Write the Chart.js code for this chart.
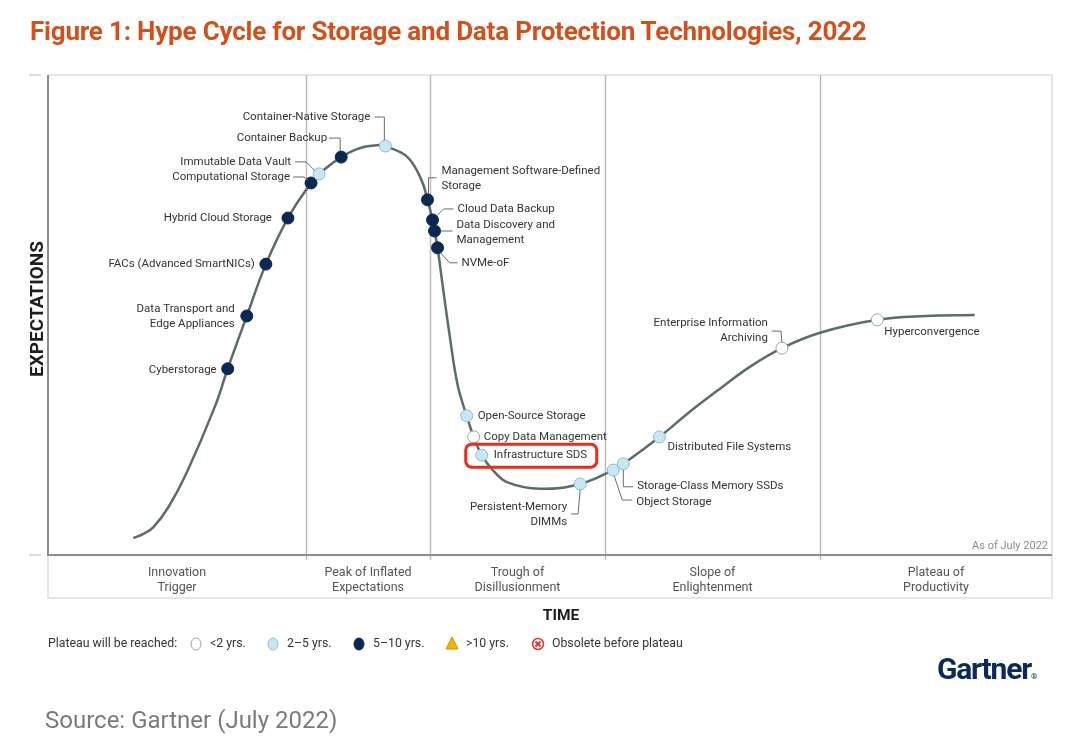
<!DOCTYPE html>
<html lang="en">
<head>
<meta charset="UTF-8">
<title>Hype Cycle for Storage and Data Protection Technologies, 2022</title>
<script src="https://cdn.jsdelivr.net/npm/chart.js"></script>
<style>
    body { margin: 0; background: #fff; font-family: Roboto, "Noto Sans", sans-serif; }
    .page { position: relative; width: 1080px; height: 747px; overflow: hidden; }
    #hype { position: absolute; left: 0; top: 0; }
    h1 {
        position: absolute; left: 30px; top: 16px; margin: 0;
        font-size: 26px; line-height: 30px; font-weight: 700; color: #d4501a;
        letter-spacing: -0.2px;
    }
    .logo {
        position: absolute; left: 937px; top: 652px;
        font-size: 30px; line-height: 34px; font-weight: 700; color: #0a2a5a; letter-spacing: -1.2px;
    }
    .logo span { font-size: 8px; letter-spacing: 0; }
    .source {
        position: absolute; left: 45px; top: 706px;
        font-size: 24px; line-height: 28px; color: #7a7a7a;
    }
</style>
</head>
<body>
<div class="page">
    <canvas id="hype" width="1080" height="747"></canvas>
    <h1>Figure 1: Hype Cycle for Storage and Data Protection Technologies, 2022</h1>
    <div class="logo">Gartner<span>&reg;</span></div>
    <div class="source">Source: Gartner (July 2022)</div>
</div>
<script>
// hype curve (time 0-100, expectations 0-100)
const curveTime = [8.5, 9.5, 10.5, 12.0, 13.8, 16.6, 17.9, 19.8, 21.7, 23.9, 26.2, 27.0, 29.2, 31.1, 33.1, 33.6, 35.8, 37.2, 37.8, 38.3, 38.5, 38.8, 39.3, 40.0, 40.8, 41.7, 42.4, 43.2, 44.3, 45.7, 49.0, 53.0, 56.3, 57.3, 60.9, 63.9, 66.9, 69.9, 73.1, 76.9, 82.6, 87.4, 92.3];
const curveExpect = [3.5, 4.4, 5.8, 10.0, 17.1, 30.8, 38.8, 49.8, 60.6, 70.2, 77.5, 79.4, 82.9, 84.8, 85.4, 85.2, 82.9, 78.1, 74.0, 69.8, 67.5, 64.0, 56.3, 45.8, 35.4, 29.0, 24.6, 20.8, 17.7, 15.2, 13.8, 14.8, 17.7, 19.0, 24.6, 29.8, 34.6, 39.2, 43.1, 46.3, 49.0, 49.8, 50.0];

const techNames = ['Cyberstorage', 'Data Transport and\nEdge Appliances', 'FACs (Advanced SmartNICs)', 'Hybrid Cloud Storage',
    'Computational Storage', 'Immutable Data Vault', 'Container Backup', 'Container-Native Storage',
    'Management Software-Defined\nStorage', 'Cloud Data Backup', 'Data Discovery and\nManagement', 'NVMe-oF',
    'Open-Source Storage', 'Copy Data Management', 'Infrastructure SDS', 'Persistent-Memory\nDIMMs',
    'Object Storage', 'Storage-Class Memory SSDs', 'Distributed File Systems', 'Enterprise Information\nArchiving', 'Hyperconvergence'];
const techTime = [17.9, 19.8, 21.7, 23.9, 26.2, 27.0, 29.2, 33.6, 37.8, 38.3, 38.5, 38.8, 41.7, 42.4, 43.2, 53.0, 56.3, 57.3, 60.9, 73.1, 82.6];
const techExpect = [38.8, 49.8, 60.6, 70.2, 77.5, 79.4, 82.9, 85.2, 74.0, 69.8, 67.5, 64.0, 29.0, 24.6, 20.8, 14.8, 17.7, 19.0, 24.6, 43.1, 49.0];
const techPlateau = ['5-10', '5-10', '5-10', '5-10', '5-10', '2-5', '5-10', '2-5', '5-10', '5-10', '5-10', '5-10',
    '2-5', '<2', '2-5', '2-5', '2-5', '2-5', '2-5', '<2', '<2'];

const phaseNames = [['Innovation', 'Trigger'], ['Peak of Inflated', 'Expectations'], ['Trough of', 'Disillusionment'],
    ['Slope of', 'Enlightenment'], ['Plateau of', 'Productivity']];
const phaseEnds = [25.7, 38.05, 55.48, 76.89, 100];
const legendItems = ['<2 yrs.', '2\u20135 yrs.', '5\u201310 yrs.', '>10 yrs.', 'Obsolete before plateau'];
const highlighted = 'Infrastructure SDS';

// styling
const plateauFill = { '<2': '#ffffff', '2-5': '#c9e7f3', '5-10': '#0b2852' };
const plateauLine = { '<2': '#9aa3a6', '2-5': '#8fbccd', '5-10': '#0b2852' };

// label offsets from the point (px), with leader line paths
const labelLayout = [
    { dx: -11, dy: 1, align: 'right' },
    { dx: -12, dy: -7, align: 'right' },
    { dx: -11, dy: 0, align: 'right' },
    { dx: -16, dy: 0, align: 'right' },
    { dx: -21, dy: -6, align: 'right', leader: [[-18, -6], [-7, -6], [-3, -3]] },
    { dx: -28, dy: -12, align: 'right', leader: [[-24, -12], [-13, -12], [-4, -3]] },
    { dx: -14, dy: -19, align: 'right', leader: [[-12, -19], [-1, -19], [-1, -6]] },
    { dx: -15, dy: -29, align: 'right', leader: [[-11, -29], [-1, -29], [-1, -6]] },
    { dx: 14, dy: -29, align: 'left', leader: [[1, -6], [1, -22], [9, -22]] },
    { dx: 25, dy: -11, align: 'left', leader: [[4, -4], [11, -11], [21, -11]] },
    { dx: 22, dy: -6, align: 'left', leader: [[6, 0], [18, 0]] },
    { dx: 24, dy: 15, align: 'left', leader: [[3, 5], [12, 15], [20, 15]] },
    { dx: 11, dy: 0, align: 'left' },
    { dx: 10, dy: 0, align: 'left' },
    { dx: 12, dy: 0, align: 'left' },
    { dx: -13, dy: 23, align: 'right', leader: [[0, 6], [-2, 30], [-9, 30]] },
    { dx: 23, dy: 32, align: 'left', leader: [[1, 6], [9, 30], [19, 30]] },
    { dx: 14, dy: 22, align: 'left', leader: [[0, 6], [0, 23], [10, 23]] },
    { dx: 8, dy: 10, align: 'left' },
    { dx: -14, dy: -25, align: 'right', leader: [[-10, -17], [-1, -17], [0, -6]] },
    { dx: 7, dy: 12, align: 'left' }
];

function line(ctx, pts) {
    ctx.beginPath();
    ctx.moveTo(pts[0][0], pts[0][1]);
    for (let i = 1; i < pts.length; i++) ctx.lineTo(pts[i][0], pts[i][1]);
    ctx.stroke();
}

const hypeDecor = {
    id: 'hypeDecor',
    beforeDatasetsDraw(chart) {
        const { ctx, chartArea: a, scales: { x } } = chart;
        const boxBottom = a.bottom + 43;
        ctx.save();
        // light outer frame and phase label box
        ctx.strokeStyle = '#dedede';
        ctx.lineWidth = 1.5;
        line(ctx, [[a.left, a.top], [a.right, a.top], [a.right, boxBottom], [a.left, boxBottom], [a.left, a.bottom]]);
        // small ticks left of the frame
        ctx.strokeStyle = '#b5b5b5';
        ctx.lineWidth = 1;
        line(ctx, [[29, a.top], [41, a.top]]);
        line(ctx, [[29, a.bottom], [41, a.bottom]]);
        // phase dividers
        ctx.strokeStyle = '#bdbdbd';
        ctx.lineWidth = 1.5;
        phaseEnds.slice(0, -1).forEach(t => {
            const px = Math.round(x.getPixelForValue(t)) + 0.5;
            line(ctx, [[px, a.top], [px, a.bottom + 5]]);
        });
        // axes
        ctx.strokeStyle = '#8c8c8c';
        ctx.lineWidth = 2;
        line(ctx, [[a.left, a.top], [a.left, a.bottom], [a.right, a.bottom]]);
        // phase labels
        ctx.fillStyle = '#555';
        ctx.font = '12.5px Roboto';
        ctx.textAlign = 'center';
        ctx.textBaseline = 'middle';
        let start = 0;
        phaseNames.forEach((lines, i) => {
            const cx = (x.getPixelForValue(start) + x.getPixelForValue(phaseEnds[i])) / 2;
            lines.forEach((t, j) => ctx.fillText(t, cx, a.bottom + 18 + j * 15));
            start = phaseEnds[i];
        });
        ctx.fillStyle = '#8a8a8a';
        ctx.font = '11px Roboto';
        ctx.textAlign = 'right';
        ctx.fillText('As of July 2022', a.right - 4, a.bottom - 9);
        ctx.restore();
    },
    afterDatasetsDraw(chart) {
        const { ctx } = chart;
        const meta = chart.getDatasetMeta(1);
        ctx.save();
        ctx.font = '11.5px Roboto';
        ctx.textBaseline = 'middle';
        ctx.lineWidth = 1;
        meta.data.forEach((el, i) => {
            const px = el.x, py = el.y;
            const lay = labelLayout[i];
            if (lay.leader) {
                ctx.strokeStyle = '#6b6b6b';
                line(ctx, lay.leader.map(p => [px + p[0], py + p[1]]));
            }
            ctx.fillStyle = '#333';
            ctx.textAlign = lay.align;
            techNames[i].split('\n').forEach((t, j) => ctx.fillText(t, px + lay.dx, py + lay.dy + j * 15));
            if (techNames[i] === highlighted) {
                ctx.strokeStyle = '#ee2a1b';
                ctx.lineWidth = 3;
                ctx.beginPath();
                ctx.roundRect(px - 16, py - 11, 131, 23, 6);
                ctx.stroke();
                ctx.lineWidth = 1;
            }
        });
        ctx.restore();
    },
    afterDraw(chart) {
        const { ctx, chartArea: a } = chart;
        ctx.save();
        // axis titles
        ctx.fillStyle = '#1e1e1e';
        ctx.font = 'bold 19px Roboto';
        ctx.textAlign = 'center';
        ctx.textBaseline = 'middle';
        ctx.save();
        ctx.translate(38, (a.top + a.bottom) / 2 - 6);
        ctx.rotate(-Math.PI / 2);
        ctx.fillText('EXPECTATIONS', 0, 0);
        ctx.restore();
        ctx.font = 'bold 15.5px Roboto';
        ctx.fillText('TIME', 561, 616);

        // legend
        const ly = 644;
        ctx.font = '12.3px Roboto';
        ctx.textAlign = 'left';
        ctx.fillStyle = '#333';
        ctx.fillText('Plateau will be reached:', 48, ly);
        const marks = [196, 273, 359, 452, 538];
        const keys = ['<2', '2-5', '5-10'];
        marks.forEach((mx, i) => {
            ctx.lineWidth = 1;
            if (i < 3) {
                ctx.fillStyle = plateauFill[keys[i]];
                ctx.strokeStyle = plateauLine[keys[i]];
                ctx.beginPath();
                ctx.ellipse(mx, ly, 5, 6, 0, 0, Math.PI * 2);
                ctx.fill();
                ctx.stroke();
            } else if (i === 3) {
                ctx.fillStyle = '#f5b400';
                ctx.strokeStyle = '#d08f00';
                ctx.beginPath();
                ctx.moveTo(mx, ly - 7);
                ctx.lineTo(mx + 6, ly + 5);
                ctx.lineTo(mx - 6, ly + 5);
                ctx.closePath();
                ctx.fill();
                ctx.stroke();
            } else {
                ctx.strokeStyle = '#e8322a';
                ctx.lineWidth = 1.5;
                ctx.beginPath();
                ctx.arc(mx, ly, 5.5, 0, Math.PI * 2);
                ctx.stroke();
                ctx.lineWidth = 2;
                line(ctx, [[mx - 2.5, ly - 2.5], [mx + 2.5, ly + 2.5]]);
                line(ctx, [[mx + 2.5, ly - 2.5], [mx - 2.5, ly + 2.5]]);
            }
            ctx.fillStyle = '#333';
            ctx.fillText(legendItems[i], mx + 14, ly);
        });
        ctx.restore();
    }
};

new Chart(document.getElementById('hype'), {
    type: 'scatter',
    data: {
        datasets: [{
            type: 'line',
            label: 'Hype curve',
            data: curveTime.map((t, i) => ({ x: t, y: curveExpect[i] })),
            borderColor: '#5e6a6b',
            borderWidth: 2.5,
            pointRadius: 0,
            tension: 0.4,
            fill: false,
            order: 2
        }, {
            label: 'Technologies',
            data: techTime.map((t, i) => ({ x: t, y: techExpect[i] })),
            pointRadius: 6,
            pointHoverRadius: 6,
            backgroundColor: techPlateau.map(p => plateauFill[p]),
            borderColor: techPlateau.map(p => plateauLine[p]),
            borderWidth: 1,
            order: 1
        }]
    },
    options: {
        responsive: false,
        animation: false,
        events: [],
        layout: { padding: { left: 48, right: 28, top: 75, bottom: 192 } },
        scales: {
            x: { type: 'linear', min: 0, max: 100, display: false },
            y: { type: 'linear', min: 0, max: 100, display: false }
        },
        plugins: {
            legend: { display: false },
            tooltip: { enabled: false }
        }
    },
    plugins: [hypeDecor]
});
</script>
</body>
</html>
